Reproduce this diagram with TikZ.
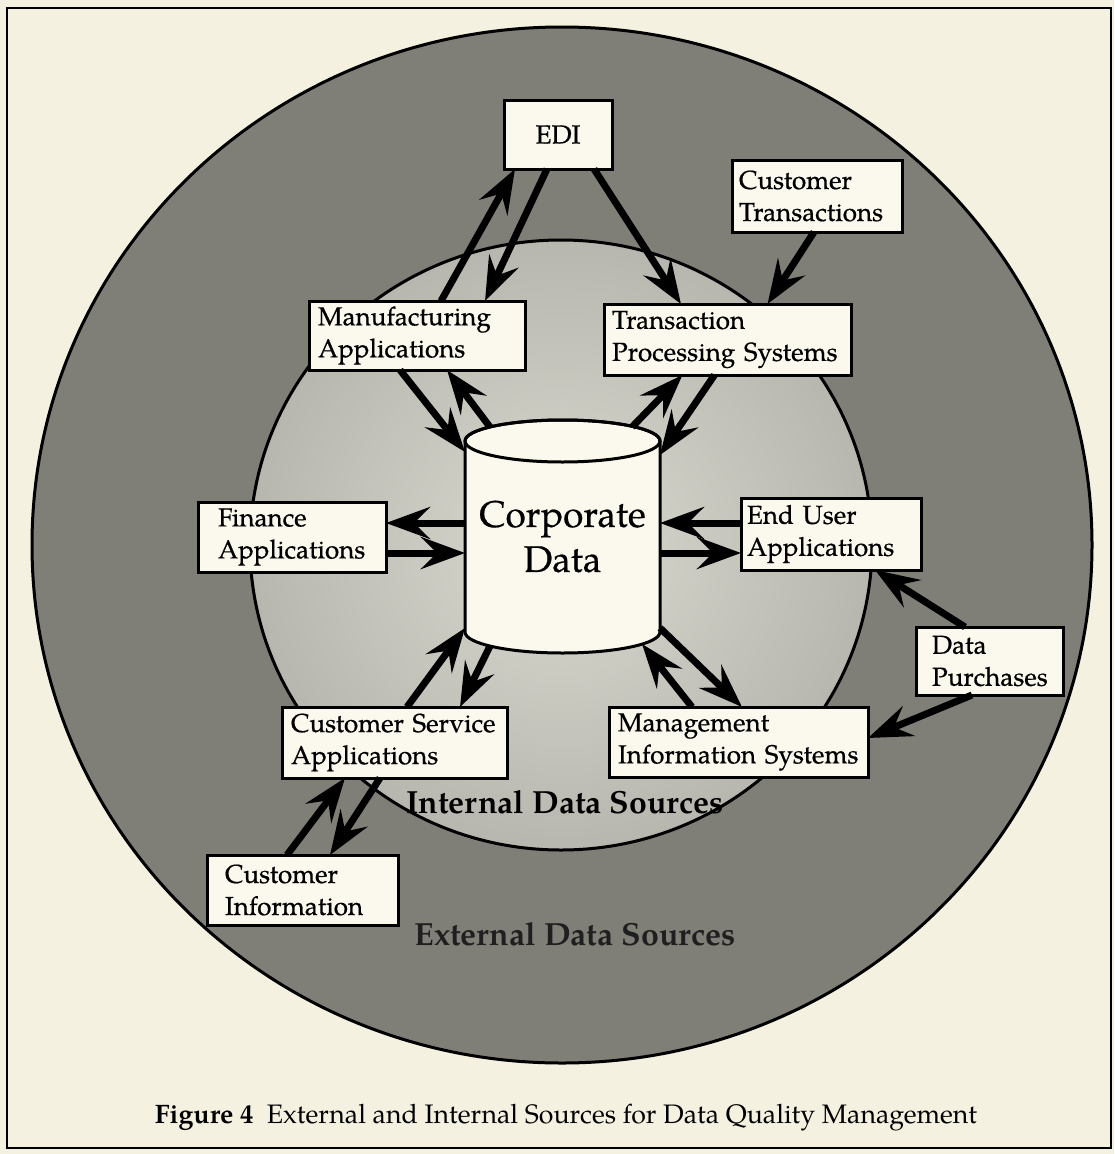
\documentclass[tikz,border=0pt]{standalone}
\usepackage{fontspec}
\setmainfont{texgyrepagella}[Extension=.otf, UprightFont=*-regular, BoldFont=*-bold, ItalicFont=*-italic, BoldItalicFont=*-bolditalic]
\newfontfamily\palheavy{texgyrepagella-regular}[Extension=.otf, FakeBold=0.6]
\usetikzlibrary{arrows.meta,calc}
\definecolor{bgc}{HTML}{F4F1E0}
\definecolor{boxc}{HTML}{FBF9EE}
\definecolor{ringc}{HTML}{7F7E77}
\definecolor{innerc}{HTML}{B8B7AF}
\definecolor{innerlc}{HTML}{DAD9D0}
\newcommand\bxfont{\palheavy\fontsize{26}{32}\selectfont\hyphenpenalty=10000\exhyphenpenalty=10000}
\newcommand\cdfont{\palheavy\fontsize{37}{45}\selectfont}
\newcommand\srcfont{\fontsize{32}{38}\selectfont\bfseries}
\newcommand\capfont{\fontsize{26.7}{32}\selectfont}
\tikzset{
  box/.style={draw=black, line width=3pt, fill=boxc, font=\bxfont, align=left,
    inner ysep=0pt, outer sep=0pt, anchor=north west},
  arr/.style={draw=black, line width=7pt, -{Stealth[length=44pt,width=32pt,inset=16pt]}},
  rim/.style={draw=black, line width=3pt},
}
\begin{document}
\begin{tikzpicture}[x=1pt,y=-1pt]
\useasboundingbox (0,0) rectangle (1114,1154);
\fill[bgc] (0,0) rectangle (1114,1154);
% circles
\fill[ringc] (562,545) ellipse [x radius=530pt, y radius=518pt];
\draw[rim] (562,545) ellipse [x radius=530pt, y radius=518pt];
\shade[inner color=innerlc, outer color=innerc] (561,545) ellipse [x radius=311pt, y radius=305pt];
\draw[rim] (561,545) ellipse [x radius=311pt, y radius=305pt];
% frame
\draw[line width=2.2pt] (7,8) rectangle (1111,1148);
% cylinder
\draw[rim, fill=boxc] (465,441) -- (465,632)
  arc[start angle=180, end angle=360, x radius=97.5pt, y radius=21pt]
  -- (660,441)
  arc[start angle=0, end angle=180, x radius=97.5pt, y radius=21pt] -- cycle;
\draw[rim] (562.5,441) ellipse [x radius=97.5pt, y radius=21pt];
\node[minimum width=195pt, minimum height=233pt, inner sep=0pt, outer sep=0pt,
  align=center, font=\cdfont] (cyl) at (562.5,536.5) {Corporate\\Data};
% boxes
\node[box, align=center, text width=98pt, inner xsep=5pt, minimum height=69pt] (edi) at (504,100) {EDI};
\node[box, text width=156pt, inner xsep=7pt, minimum height=72pt] (ct) at (732,160) {Customer\\Transactions};
\node[box, text width=198pt, inner xsep=9pt, minimum height=69pt] (manu) at (309,301) {Manufacturing\\Applications};
\node[box, text width=231pt, inner xsep=8pt, minimum height=71pt] (tps) at (604,304) {Transaction\\Processing~Systems};
\node[box, text width=148pt, inner xsep=20pt, minimum height=70pt] (fin) at (198,502) {Finance\\Applications};
\node[box, text width=168pt, inner xsep=6pt, minimum height=72pt] (eu) at (741,498) {End~User\\Applications};
\node[box, text width=115pt, inner xsep=16pt, minimum height=68pt] (dp) at (916,627) {Data\\Purchases};
\node[box, text width=207pt, inner xsep=9pt, minimum height=71pt] (cs) at (282,707) {Customer~Service\\Applications};
\node[box, text width=241pt, inner xsep=9pt, minimum height=70pt] (mis) at (609,707) {Management\\Information~Systems};
\node[box, text width=155pt, inner xsep=18pt, minimum height=70pt] (ci) at (207,855) {Customer\\Information};
% arrows
\draw[arr] ([xshift=24pt]manu.north) -- ([xshift=-43pt]edi.south);
\draw[arr] ([xshift=-11pt]edi.south) -- ([xshift=68pt]manu.north);
\draw[arr] ([xshift=36pt]edi.south) -- ([xshift=-46.5pt]tps.north);
\draw[arr] ([xshift=-3pt]ct.south) -- ([xshift=40pt]tps.north);
\draw[arr] ([xshift=-17pt]manu.south) -- ([yshift=-32pt]cyl.north west);
\draw[arr] ([xshift=25pt,yshift=-7pt]cyl.north west) -- ([xshift=30pt]manu.south);
\draw[arr] ([xshift=-28pt,yshift=-7pt]cyl.north east) -- ([xshift=-45pt]tps.south);
\draw[arr] ([xshift=-13pt]tps.south) -- ([yshift=-35pt]cyl.north east);
\draw[arr] ([yshift=13.5pt]cyl.west) -- ([yshift=14pt]fin.east);
\draw[arr] ([yshift=-16pt]fin.east) -- ([yshift=-16.5pt]cyl.west);
\draw[arr] ([yshift=11pt]eu.west) -- ([yshift=13.5pt]cyl.east);
\draw[arr] ([yshift=-16.5pt]cyl.east) -- ([yshift=-19pt]eu.west);
\draw[arr] ([xshift=-24.5pt]dp.north) -- ([xshift=44pt]eu.south);
\draw[arr] ([xshift=-17.5pt]dp.south) -- ([yshift=4pt]mis.east);
\draw[arr] ([yshift=25pt]cyl.south east) -- ([xshift=3.5pt]mis.north);
\draw[arr] ([xshift=-46.5pt]mis.north) -- ([xshift=-18pt,yshift=9pt]cyl.south east);
\draw[arr] ([xshift=12.5pt]cs.north) -- ([yshift=25pt]cyl.south west);
\draw[arr] ([xshift=25pt,yshift=7pt]cyl.south west) -- ([xshift=65.5pt]cs.north);
\draw[arr] ([xshift=-15.5pt]ci.north) -- ([xshift=-49.5pt]cs.south);
\draw[arr] ([xshift=-14.5pt]cs.south) -- ([xshift=27.5pt]ci.north);
% labels
\node[font=\srcfont, anchor=base, inner sep=0pt] (intl) at (565,813) {Internal Data Sources};
\node[font=\srcfont, anchor=base, inner sep=0pt, text=black!88] (extl) at (575,945) {External Data Sources};
\node[font=\capfont, anchor=base, inner sep=0pt] (cap) at (566,1123) {\textbf{Figure 4}\enspace External and Internal Sources for Data Quality Management};
\end{tikzpicture}
\end{document}
